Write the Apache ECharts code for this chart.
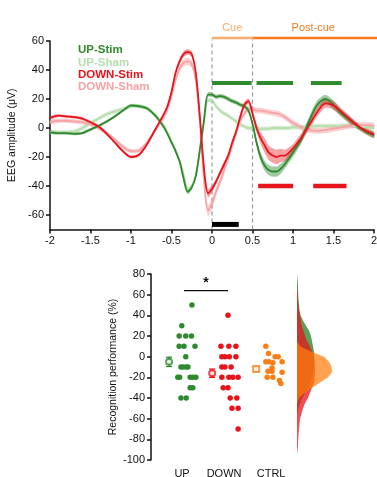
<!DOCTYPE html>
<html><head><meta charset="utf-8">
<script src="https://cdn.jsdelivr.net/npm/echarts@6/dist/echarts.min.js"></script>
<style>html,body{margin:0;padding:0;background:#fff}#c{width:377px;height:477px}</style>
</head><body><div id="c"></div>
<script>
// ---------- TOP PANEL DATA (EEG, time in s, amplitude in µV) ----------
const time = [-2,-1.9,-1.8,-1.7,-1.6,-1.5,-1.4,-1.3,-1.2,-1.1,
  -1.0,-0.9,-0.8,-0.7,-0.6,-0.55,-0.5,-0.45,-0.4,-0.35,
  -0.3,-0.25,-0.2,-0.15,-0.1,-0.05,0,0.05,0.1,0.15,
  0.2,0.25,0.3,0.35,0.4,0.45,0.5,0.55,0.6,0.65,
  0.7,0.75,0.8,0.85,0.9,0.95,1.0,1.1,1.2,1.3,
  1.4,1.5,1.6,1.7,1.8,1.9,2.0];
const upStim = [-3,-3.5,-3.5,-4,-3.5,-1,1.5,4.5,8,12,
  15.5,15,13.5,8.5,1,-4,-10,-16,-23,-35,
  -44,-41,-33,-15,5,23,23,21.5,22,21.5,
  20,18.5,17.5,16,15,12,3,-10,-20,-26,
  -29,-30,-30,-28,-25,-21,-17,-8,5,16,
  20,16,10,5.5,1,-2.5,-5];
const upStimSem = [1,1,1,1,1,1,1,1,1,1,
  1,1,1,1,1,1,1,1.2,1.5,1.5,
  1.5,1.5,1.5,1.5,1.5,1.5,1.5,1.5,1.5,1.5,
  1.5,1.5,1.5,1.5,1.5,1.5,2,2.5,3,3.5,
  3.5,3.5,3.5,3.5,3,3,3,3,3,3,
  3,3,2.5,2.5,2,2,2];
const upSham = [-3,-3,-3,-2.5,0,3.5,6.5,9.5,11.5,13,
  15,15,13.5,9,2,-3,-9,-15,-23,-32,
  -42,-40,-33,-16,3,19,19,15,12,10,
  8.5,6.5,4.5,2.5,1,0,0,-0.5,-0.5,-0.5,
  -0.5,0,0,0,0,0,0.5,0.5,1,1.5,
  1.5,1.5,1.5,1.5,1,0.5,0];
const upShamSem = [1.5,1.5,1.5,1.5,1.5,1.5,1.5,1.5,1.5,1.5,
  1.5,1.5,1.5,1.5,1.5,1.5,1.5,1.5,1.5,1.5,
  1.5,1.5,1.5,1.5,1.5,1.5,1.5,1.5,1.5,1.5,
  1.5,1.5,1.5,1.5,1.5,1.5,1.5,1.5,1.5,1.5,
  1.5,1.5,1.5,1.5,1.5,1.5,1.5,1.5,1.5,1.5,
  1.5,1.5,1.5,1.5,1.5,1.5,1.5];
const downStim = [7,8.5,8,7.5,6.5,4,1,-4,-10,-16,
  -20,-18.5,-11,-1,9,15,25,38,46,51,
  52.5,51,38,8,-27,-45,-42,-37,-31,-25,
  -19,-10,-2,8,16,18.5,10,0,-7,-12,
  -17,-19,-20,-19,-19,-17,-14,-7,2,11,
  17,15.5,11,6,1.5,-2,-4.5];
const downStimSem = [1,1,1,1,1,1,1,1,1,1,
  1,1,1,1,1,1,1.5,1.5,2,2,
  2,2,2,2,2.5,3,2.5,2,2,2,
  2,2,2,2,2,2,2.5,3,4,5,
  5,5,5,4.5,4,3.5,3,3,3,3,
  3,3,2.5,2.5,2,2,2];
const downSham = [4,5,5,4.5,4,2.5,0,-3.5,-8,-13,
  -16,-15.5,-10,-1.5,7,13,22,33,41,45,
  46,44,33,5,-35,-57,-52,-44,-37,-29,
  -21,-12,-3,5,10,13,13,12,12,11.5,
  11,10.5,10,9,7.5,5.5,3.5,0.5,-1.5,-2,
  -1.5,-0.5,0.5,1.5,2,2,1.5];
const downShamSem = [1.5,1.5,1.5,1.5,1.5,1.5,1.5,1.5,1.5,1.5,
  1.5,1.5,1.5,1.5,1.5,1.5,2,2,2,2.5,
  2.5,2.5,2.5,3,3.5,4,3.5,3,2.5,2.5,
  2,2,2,2,2,2,2,2,2,2,
  2,2,2,2,2,2,2,2,2,2,
  2,2,2,2,2,2,2];
const conditionNames = ['UP-Stim','UP-Sham','DOWN-Stim','DOWN-Sham'];
const topYTicks = [-60,-40,-20,0,20,40,60];
const topXTicks = [-2,-1.5,-1,-0.5,0,0.5,1,1.5,2];
const greenSigSegments = [[0,0.49],[0.55,1.0],[1.22,1.6]];
const greenSigLevel = 31;
const redSigSegments = [[0.57,1.0],[1.25,1.66]];
const redSigLevel = -40;
const stimSegments = [[0,0.33]];
const stimLevel = -66.5;
const cueSegments = [[0,0.5]];
const postCueSegments = [[0.5,2.05]];
const windowLevel = 62;
const windowLabels = [[0.25,69,'Cue'],[1.25,69,'Post-cue']];
const markerTimes = [0,0.5];
const markerRange = [-70,61];

// ---------- BOTTOM PANEL DATA (recognition performance, %) ----------
const groupNames = ['UP','DOWN','CTRL'];
const groupLabelPos = [0.955,1.91,2.98];
const upValues = [50,30,20,20,20,10,10,10,0,-10,-10,-10,-10,-20,-20,-20,-20,-20,-30,-30,-40,-40];
const upJitter = [0.18,-0.05,-0.11,0.04,0.17,-0.11,0,0.25,0.04,-0.07,-0.02,0.05,0.09,-0.14,-0.1,0.14,0.2,0.27,0.14,0.2,-0.07,0.05];
const downValues = [40,10,10,10,0,0,0,0,-10,-10,-10,-20,-20,-20,-20,-30,-30,-40,-40,-50,-50,-70];
const downJitter = [0,-0.16,0.02,0.18,-0.14,-0.07,0.03,0.18,-0.14,-0.07,0.07,-0.14,0.02,0.11,0.23,-0.11,0,0.05,0.2,0.09,0.23,0.23];
const ctrlValues = [10,3,0,0,-5,-5,-6,-5,-11,-14,-14,-15,-20,-20,-23,-26];
const ctrlJitter = [-0.14,-0.08,0.07,0.14,-0.14,-0.07,0.02,0.23,0,-0.09,0,0.23,-0.11,0.02,0.17,0.2];
const groupMeans = [-5,-16,-12];
const groupSem = [4.5,4,2];
const meanOffset = [-0.34,-0.36,-0.36];
const bottomYTicks = [-100,-80,-60,-40,-20,0,20,40,60,80];
const sigBracket = [[1.0,2.0]];
const sigLevel = 64;
const sigStar = [[1.5,71,'*']];
const densityLevels = [80,75,70,65,60,55,50,45,40,35,30,25,20,15,10,5,0,-5,-10,-15,-20,-25,-30,-35,-40,-45,-50,-55,-60,-65,-70,-75,-80,-85,-90,-95,-100];
const upDensity = [0,0.5,1,1,1.2,1.5,2,2.5,3.5,6,9,12,14,15,16,17,17.5,17.5,17,16,15,13,11,8,5.5,3,1.5,0.5,0,0,0,0,0,0,0,0,0];
const downDensity = [0,0,0,0.5,0.8,1,1.5,2,3,4,5,6.5,8,10,13,15,16.5,17.5,18,18,17.5,17,15,13,11,8,6,4.5,3,2.5,2,1.5,1.2,1,0.6,0,0];
const ctrlDensity = [0,0,0,0,0,0,0,0,0,0,0,0,0,0,3,14,27,32,34.5,35,31,23,15,8,2,0,0,0,0,0,0,0,0,0,0,0,0];

// ---------- STYLE ----------
const FONT = 'Liberation Sans, Arial, sans-serif';
const C = {upStim:'#2f8a2f', upSham:'#b7dead', downStim:'#e8141b', downSham:'#f6a3a6',
  ctrl:'#f77f16', cue:'#f8ad72', post:'#f47b20'};
const axisLine = {color:'#111', width:1.5};

const chart = echarts.init(document.getElementById('c'), null, {renderer:'canvas'});

function band(name, mean, sem, color) {
  return {type:'custom', name:name+' SEM', xAxisIndex:0, yAxisIndex:0, silent:true, z:1,
    encode:{x:0, y:1},
    data: [[time[0], mean[0]]],
    renderItem:(p, api)=>{
      const pts = [];
      for (let i=0;i<time.length;i++) pts.push(api.coord([time[i], mean[i]+sem[i]]));
      for (let i=time.length-1;i>=0;i--) pts.push(api.coord([time[i], mean[i]-sem[i]]));
      return {type:'polygon', shape:{points:pts, smooth:0.25}, style:{fill:color, stroke:null}};
    }};
}
function line(name, mean, color, z) {
  return {type:'line', name:name, xAxisIndex:0, yAxisIndex:0, symbol:'none', smooth:0.3,
    lineStyle:{color:color, width:1.8}, itemStyle:{color:color}, z:z, silent:true,
    data: time.map((t,i)=>[t, mean[i]])};
}
function segs(segments, level, color, width, xi, yi, dash, z) {
  return {type:'custom', xAxisIndex:xi, yAxisIndex:yi, silent:true, clip:false, z:z||5,
    encode:{x:[0,1], y:2},
    data: segments.map(s=>[s[0], s[1], level]),
    renderItem:(p, api)=>{
      const a = api.coord([api.value(0), api.value(2)]);
      const b = api.coord([api.value(1), api.value(2)]);
      return {type:'line', shape:{x1:a[0], y1:a[1], x2:b[0], y2:b[1]},
        style:{stroke:color, lineWidth:width, lineDash:dash||null}};
    }};
}
function vlines(xs, range, color, xi, yi) {
  return {type:'custom', xAxisIndex:xi, yAxisIndex:yi, silent:true, clip:false, z:2,
    encode:{x:0, y:[1,2]},
    data: xs.map(x=>[x, range[0], range[1]]),
    renderItem:(p, api)=>{
      const a = api.coord([api.value(0), api.value(1)]);
      const b = api.coord([api.value(0), api.value(2)]);
      return {type:'line', shape:{x1:a[0], y1:a[1], x2:b[0], y2:b[1]},
        style:{stroke:color, lineWidth:1.2, lineDash:[4,3]}};
    }};
}
function texts(items, colors, size, weight, xi, yi) {
  return {type:'custom', xAxisIndex:xi, yAxisIndex:yi, silent:true, clip:false, z:6,
    encode:{x:0, y:1},
    data: items.map(it=>[it[0], it[1]]),
    renderItem:(p, api)=>{
      const a = api.coord([api.value(0), api.value(1)]);
      return {type:'text', x:a[0], y:a[1],
        style:{text:items[p.dataIndex][2], fill:colors[p.dataIndex], align:'center', verticalAlign:'middle',
          font: weight+' '+size+'px '+FONT}};
    }};
}
function dots(values, jitter, center, color) {
  return {type:'scatter', xAxisIndex:1, yAxisIndex:1, symbol:'circle', symbolSize:5.5, silent:true,
    itemStyle:{color:color, opacity:1}, z:3,
    data: values.map((v,i)=>[center+jitter[i], v])};
}
function density(widths, color) {
  return {type:'custom', xAxisIndex:2, yAxisIndex:2, silent:true, clip:false, z:2,
    encode:{x:0, y:1},
    data: [[0, densityLevels[0]]],
    renderItem:(p, api)=>{
      const pts = [api.coord([0, densityLevels[0]])];
      densityLevels.forEach((lv,i)=>pts.push(api.coord([widths[i], lv])));
      pts.push(api.coord([0, densityLevels[densityLevels.length-1]]));
      return {type:'polygon', shape:{points:pts}, style:{fill:color, stroke:null}};
    }};
}

const errorBars = {type:'custom', xAxisIndex:1, yAxisIndex:1, silent:true, z:4,
  encode:{x:0, y:1},
  data: groupMeans.map((m,i)=>[i+1+meanOffset[i], m, groupSem[i]]),
  renderItem:(p, api)=>{
    const x = api.value(0), m = api.value(1), s = api.value(2);
    const top = api.coord([x, m+s]), bot = api.coord([x, m-s]);
    const col = [C.upStim, C.downStim, C.ctrl][p.dataIndex];
    const st = {stroke:col, lineWidth:1.3};
    return {type:'group', children:[
      {type:'line', shape:{x1:top[0], y1:top[1], x2:bot[0], y2:bot[1]}, style:st},
      {type:'line', shape:{x1:top[0]-3, y1:top[1], x2:top[0]+3, y2:top[1]}, style:st},
      {type:'line', shape:{x1:bot[0]-3, y1:bot[1], x2:bot[0]+3, y2:bot[1]}, style:st}
    ]};
  }};
const meanMarkers = {type:'scatter', xAxisIndex:1, yAxisIndex:1, silent:true, z:5,
  data: groupMeans.map((m,i)=>({value:[i+1+meanOffset[i], m],
    symbol: i===2 ? 'emptyRect' : 'emptyCircle',
    itemStyle:{color:[C.upStim, C.downStim, C.ctrl][i], borderColor:[C.upStim, C.downStim, C.ctrl][i], borderWidth:1.3}})),
  symbolSize:6};

const option = {
  animation:false,
  backgroundColor:'#fff',
  textStyle:{fontFamily:FONT},
  grid:[
    {left:50, top:41, width:324, height:188.5, outerBoundsMode:'none'},
    {left:151, top:274, width:143, height:186, outerBoundsMode:'none'},
    {left:297, top:274, width:45, height:186, outerBoundsMode:'none'}
  ],
  legend:{left:68, top:39, orient:'vertical', itemWidth:0, itemHeight:0, itemGap:0, selectedMode:false,
    textStyle:{fontSize:11.5, fontWeight:'bold', fontFamily:FONT, lineHeight:12.3},
    data: conditionNames.map((n,i)=>({name:n, icon:'rect',
      textStyle:{color:[C.upStim, C.upSham, C.downStim, C.downSham][i]}}))},
  xAxis:[
    {gridIndex:0, type:'value', min:-2, max:2, interval:0.5,
     axisLine:{onZero:false, lineStyle:axisLine}, axisTick:{length:4, lineStyle:axisLine},
     axisLabel:{color:'#111', fontSize:11, margin:6, fontFamily:FONT,
       customValues: topXTicks}, splitLine:{show:false}},
    {gridIndex:1, type:'value', min:0.25, max:3.5,
     axisLine:{show:false, onZero:false}, axisTick:{show:false}, splitLine:{show:false},
     axisLabel:{color:'#111', fontSize:11, margin:8, fontFamily:FONT, customValues: groupLabelPos,
       formatter:(v)=>{let k=0,d=1e9; groupLabelPos.forEach((p,i)=>{if(Math.abs(p-v)<d){d=Math.abs(p-v);k=i;}}); return groupNames[k];}}},
    {gridIndex:2, type:'value', min:0, max:45, show:false}
  ],
  yAxis:[
    {gridIndex:0, type:'value', min:-70, max:60,
     axisLine:{show:true, onZero:false, lineStyle:axisLine},
     axisTick:{show:true, length:4, lineStyle:axisLine, customValues: topYTicks},
     axisLabel:{color:'#111', fontSize:11, margin:6, fontFamily:FONT, customValues: topYTicks},
     splitLine:{show:false},
     name:'EEG amplitude (μV)', nameLocation:'middle', nameGap:31,
     nameTextStyle:{color:'#111', fontSize:10.5, fontFamily:FONT}},
    {gridIndex:1, type:'value', min:-100, max:80, interval:20,
     axisLine:{show:true, onZero:false, lineStyle:axisLine},
     axisTick:{show:true, length:4, lineStyle:axisLine},
     axisLabel:{color:'#111', fontSize:11, margin:6, fontFamily:FONT},
     splitLine:{show:false},
     name:'Recognition performance (%)', nameLocation:'middle', nameGap:31,
     nameTextStyle:{color:'#111', fontSize:10.5, fontFamily:FONT}},
    {gridIndex:2, type:'value', min:-100, max:80, show:false}
  ],
  series:[
    band('UP-Sham', upSham, upShamSem, 'rgba(170,215,160,0.45)'),
    band('DOWN-Sham', downSham, downShamSem, 'rgba(246,163,166,0.5)'),
    band('UP-Stim', upStim, upStimSem, 'rgba(47,138,47,0.45)'),
    band('DOWN-Stim', downStim, downStimSem, 'rgba(232,20,27,0.4)'),
    line('UP-Sham', upSham, C.upSham, 3),
    line('DOWN-Sham', downSham, C.downSham, 3),
    line('UP-Stim', upStim, C.upStim, 4),
    line('DOWN-Stim', downStim, C.downStim, 4),
    vlines(markerTimes, markerRange, '#999', 0, 0),
    segs(greenSigSegments, greenSigLevel, C.upStim, 4, 0, 0),
    segs(redSigSegments, redSigLevel, C.downStim, 4.5, 0, 0),
    segs(stimSegments, stimLevel, '#000', 5, 0, 0),
    segs(cueSegments, windowLevel, C.cue, 2.5, 0, 0),
    segs(postCueSegments, windowLevel, C.post, 2.5, 0, 0),
    texts(windowLabels, [C.cue, C.post], 11, 'normal', 0, 0),
    dots(upValues, upJitter, 1, C.upStim),
    dots(downValues, downJitter, 2, C.downStim),
    dots(ctrlValues, ctrlJitter, 3, C.ctrl),
    errorBars,
    meanMarkers,
    segs(sigBracket, sigLevel, '#111', 1.3, 1, 1),
    texts(sigStar, ['#111'], 14, 'bold', 1, 1),
    density(upDensity, 'rgba(47,138,47,0.8)'),
    density(downDensity, 'rgba(232,20,27,0.75)'),
    density(ctrlDensity, 'rgba(255,125,10,0.72)')
  ]
};
chart.setOption(option);
</script></body></html>
